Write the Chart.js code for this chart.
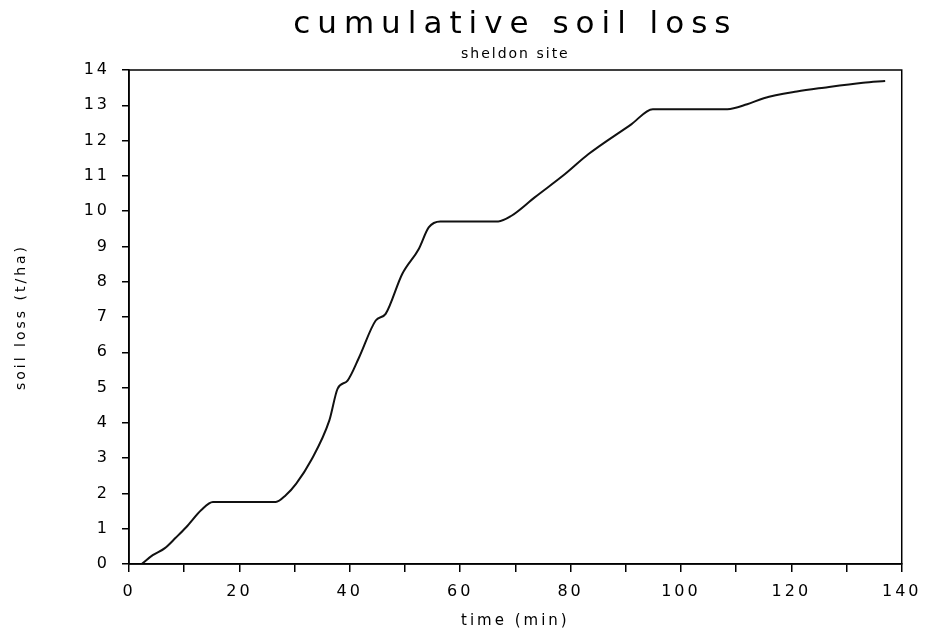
<!DOCTYPE html>
<html>
<head>
<meta charset="utf-8">
<script src="https://cdn.jsdelivr.net/npm/chart.js@4/dist/chart.umd.min.js"></script>
<style>
  body { margin: 0; background: #fff; }
  canvas { display: block; }
</style>
</head>
<body>
<canvas id="lossChart" width="927" height="632"></canvas>
<script>
// time (min) and cumulative soil loss (t/ha)
const times = [2.3, 4.3, 6.5, 8.5, 10.4, 13.1, 15.2, 26.6, 28.4, 30.3, 33, 36.3, 37.8, 39.6, 41.7, 44.7, 46.5, 49.5, 52.5, 54.3, 56.4, 66.9, 69.3, 73.5, 79, 83.2, 91, 94.9, 108.4, 112, 115, 121, 125.9, 133, 137];
const soilLoss = [0, 0.25, 0.45, 0.75, 1.05, 1.53, 1.76, 1.76, 1.95, 2.28, 2.94, 4.07, 4.97, 5.2, 5.86, 6.9, 7.09, 8.22, 8.93, 9.54, 9.71, 9.71, 9.87, 10.39, 11.05, 11.61, 12.46, 12.89, 12.89, 13.03, 13.2, 13.39, 13.5, 13.64, 13.69];

const titleText = 'cumulative soil loss';
const subtitleText = 'sheldon site';

const font = 'DejaVu Sans';

// wide plotter-style lettering + frame around the plot
const plotterLook = {
  id: 'plotterLook',
  afterInit(chart) {
    chart.boxes.forEach(box => {
      let spacing = null;
      if (box === chart.titleBlock) spacing = '7px';
      else if (box.options && box.options.text === subtitleText) spacing = '2px';
      if (!spacing) return;
      const orig = box.draw;
      box.draw = function (area) {
        const ctx = chart.ctx;
        const prev = ctx.letterSpacing;
        ctx.letterSpacing = spacing;
        orig.call(this, area);
        ctx.letterSpacing = prev;
      };
    });
  },
  beforeDraw(chart) {
    chart.ctx.letterSpacing = '3px';
  },
  afterDraw(chart) {
    const {ctx, chartArea: a} = chart;
    ctx.letterSpacing = '0px';
    ctx.save();
    ctx.strokeStyle = '#000';
    ctx.lineWidth = 1.5;
    ctx.strokeRect(a.left, a.top, a.right - a.left, a.bottom - a.top);
    ctx.restore();
  }
};

const points = times.map((t, i) => ({x: t, y: soilLoss[i]}));

new Chart(document.getElementById('lossChart'), {
  type: 'line',
  data: {
    datasets: [{
      data: points,
      borderColor: '#111',
      borderWidth: 2,
      pointRadius: 0,
      cubicInterpolationMode: 'monotone',
      fill: false
    }]
  },
  options: {
    responsive: false,
    animation: false,
    layout: { padding: { left: 0, right: 21, top: 0, bottom: 0 } },
    plugins: {
      legend: { display: false },
      tooltip: { enabled: false },
      title: {
        display: true,
        text: titleText,
        fullSize: false,
        color: '#000',
        font: { family: font, size: 31, weight: 'normal' },
        padding: { top: 6, bottom: 3 }
      },
      subtitle: {
        display: true,
        text: subtitleText,
        fullSize: false,
        color: '#000',
        font: { family: font, size: 14, weight: 'normal' },
        padding: { top: 0, bottom: 7 }
      }
    },
    scales: {
      x: {
        type: 'linear',
        min: 0,
        max: 140,
        afterFit: s => { s.height = 68; },
        border: { display: true, color: '#000', width: 1.5 },
        grid: { drawOnChartArea: false, drawTicks: true, tickLength: 8, color: '#000', lineWidth: 1.5 },
        ticks: {
          stepSize: 10,
          autoSkip: false,
          maxRotation: 0,
          padding: 10,
          color: '#000',
          font: { family: font, size: 16 },
          callback: v => (v % 20 === 0 ? v : '')
        },
        title: {
          display: true,
          text: 'time (min)',
          color: '#000',
          font: { family: font, size: 15 },
          padding: { top: 4, bottom: 2 }
        }
      },
      y: {
        min: 0,
        max: 14,
        afterFit: s => { s.width = 129; },
        border: { display: true, color: '#000', width: 1.5 },
        grid: { drawOnChartArea: false, drawTicks: true, tickLength: 7, color: '#000', lineWidth: 1.5 },
        ticks: {
          stepSize: 1,
          autoSkip: false,
          padding: 12,
          color: '#000',
          font: { family: font, size: 16 }
        },
        title: {
          display: true,
          text: 'soil loss (t/ha)',
          color: '#000',
          font: { family: font, size: 14 },
          padding: { top: 13, bottom: 13 }
        }
      }
    }
  },
  plugins: [plotterLook]
});
</script>
</body>
</html>
